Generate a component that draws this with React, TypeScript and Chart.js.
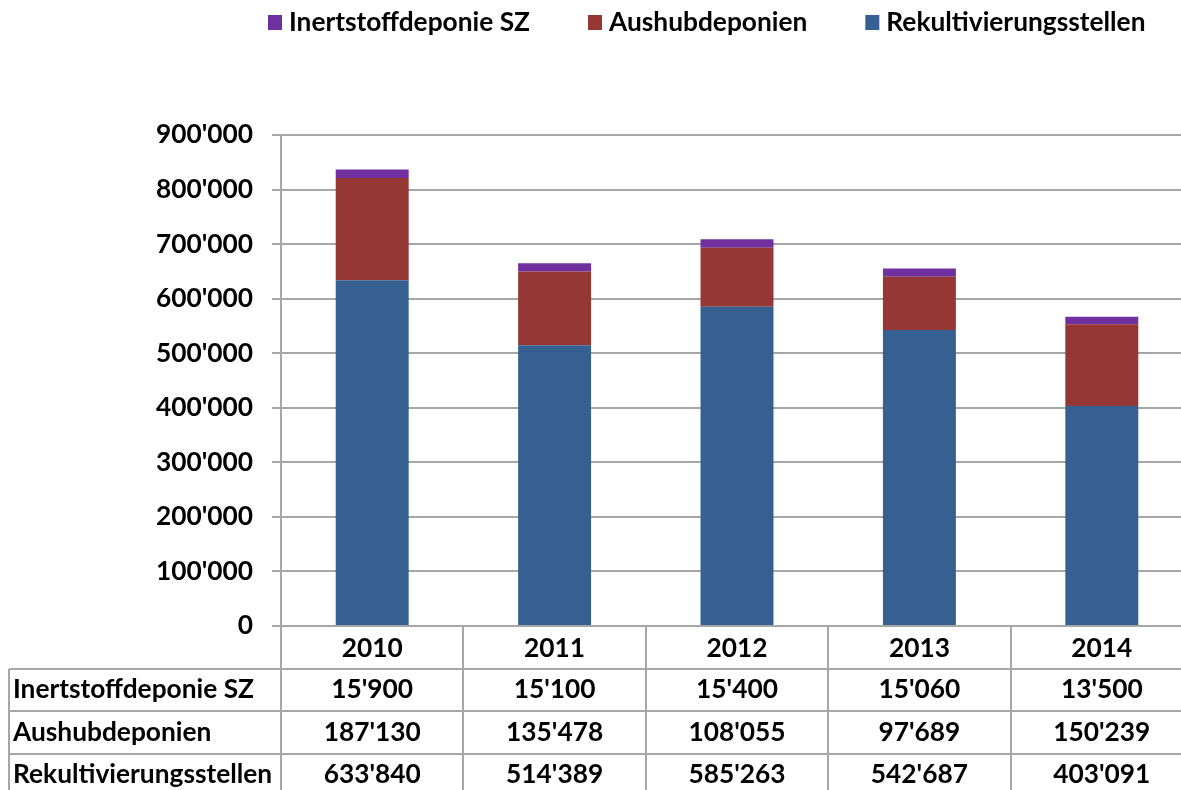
import React, { useEffect, useRef } from 'react';
import { Chart, registerables } from 'chart.js';

Chart.register(...registerables);

const years = ['2010', '2011', '2012', '2013', '2014'];
const inertstoff = [15900, 15100, 15400, 15060, 13500];
const aushub = [187130, 135478, 108055, 97689, 150239];
const rekult = [633840, 514389, 585263, 542687, 403091];
const seriesNames = ['Inertstoffdeponie SZ', 'Aushubdeponien', 'Rekultivierungsstellen'];
const seriesColors = ['#7030A0', '#953735', '#376092'];
const yMin = 0;
const yMax = 900000;
const yStep = 100000;

const FONT_FAMILY = 'Lato';
const FONT_SIZE = 26.3;
const FONT = `bold ${FONT_SIZE}px ${FONT_FAMILY}`;
const GRID = '#a6a6a6';
const W = 1195;
const H = 790;

const fmt = (v: number) => String(Math.round(v)).replace(/\B(?=(\d{3})+(?!\d))/g, "'");

const tablePlugin = {
  id: 'tableAndLegend',
  afterDraw(chart: any) {
    const { ctx, chartArea } = chart;
    const xs = chart.scales.x;
    const n = years.length;
    const colW = (chartArea.right - chartArea.left) / n;
    const top = chartArea.bottom;
    const rowLines = [top + 43, top + 85, top + 128];
    const rows = [inertstoff, aushub, rekult];

    ctx.save();
    ctx.strokeStyle = GRID;
    ctx.lineWidth = 2;
    ctx.beginPath();
    for (let i = 0; i <= n; i++) {
      const px = Math.round(chartArea.left + i * colW);
      ctx.moveTo(px, top);
      ctx.lineTo(px, H);
    }
    for (const ry of rowLines) {
      ctx.moveTo(9, ry);
      ctx.lineTo(W, ry);
    }
    ctx.moveTo(9, rowLines[0]);
    ctx.lineTo(9, H);
    ctx.stroke();

    ctx.fillStyle = '#000';
    ctx.font = FONT;
    ctx.textBaseline = 'middle';
    // header (years)
    ctx.textAlign = 'center';
    for (let i = 0; i < n; i++) {
      ctx.fillText(years[i], xs.getPixelForValue(i), (top + rowLines[0]) / 2 + 1);
    }
    // rows
    const rowTops = [rowLines[0], rowLines[1], rowLines[2]];
    const rowBottoms = [rowLines[1], rowLines[2], rowLines[2] + 42];
    for (let r = 0; r < rows.length; r++) {
      const cy = (rowTops[r] + rowBottoms[r]) / 2;
      ctx.textAlign = 'left';
      ctx.fillText(seriesNames[r], 13, cy);
      ctx.textAlign = 'center';
      for (let i = 0; i < n; i++) {
        ctx.fillText(fmt(rows[r][i]), xs.getPixelForValue(i), cy);
      }
    }

    // legend
    let lx = 268;
    const ly = 23;
    for (let s = 0; s < seriesNames.length; s++) {
      ctx.fillStyle = seriesColors[s];
      ctx.fillRect(lx, ly - 8, 14, 15);
      ctx.fillStyle = '#000';
      ctx.textAlign = 'left';
      const tx = lx + 21;
      ctx.fillText(seriesNames[s], tx, ly);
      lx = tx + ctx.measureText(seriesNames[s]).width + 58;
    }
    ctx.restore();
  },
};

export default function App() {
  const ref = useRef<HTMLCanvasElement | null>(null);

  useEffect(() => {
    if (!ref.current) return;
    const chart = new Chart(ref.current, {
      type: 'bar',
      data: {
        labels: years,
        datasets: [
          { label: seriesNames[2], data: rekult, backgroundColor: seriesColors[2] },
          { label: seriesNames[1], data: aushub, backgroundColor: seriesColors[1] },
          { label: seriesNames[0], data: inertstoff, backgroundColor: seriesColors[0] },
        ],
      },
      options: {
        animation: false,
        responsive: false,
        devicePixelRatio: 1,
        layout: { padding: { top: 135, bottom: H - 626, left: 0, right: 2 } },
        datasets: { bar: { barPercentage: 0.4, categoryPercentage: 1 } },
        plugins: { legend: { display: false }, tooltip: { enabled: false } },
        scales: {
          x: { stacked: true, display: false },
          y: {
            stacked: true,
            min: yMin,
            max: yMax,
            afterFit: (s: any) => { s.width = 281; },
            border: { display: true, color: GRID, width: 2 },
            grid: { color: GRID, lineWidth: 2, tickLength: 9, drawTicks: true },
            ticks: {
              stepSize: yStep,
              color: '#000',
              padding: 19,
              font: { family: FONT_FAMILY, size: FONT_SIZE, weight: 'bold' },
              callback: (v: any) => fmt(Number(v)),
            },
          },
        },
      },
      plugins: [tablePlugin],
    });
    return () => chart.destroy();
  }, []);

  return (
    <div style={{ position: 'fixed', left: 0, top: 0, width: 1181, height: 790, overflow: 'hidden', background: '#fff' }}>
      <canvas ref={ref} width={W} height={H} style={{ display: 'block' }} />
    </div>
  );
}
